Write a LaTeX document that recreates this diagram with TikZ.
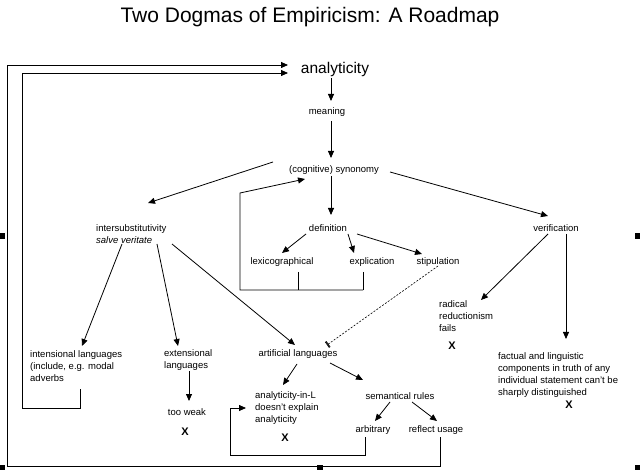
\documentclass[tikz,border=0pt]{standalone}
\usepackage{fontspec}
\setmainfont{Liberation Sans}
\usetikzlibrary{arrows.meta}
\begin{document}
\begin{tikzpicture}[x=1pt,y=-1pt,
  t/.style={inner sep=0pt,font=\fontsize{9.5}{12}\selectfont},
  tl/.style={t,anchor=west,align=left},
  ar/.style={draw,line width=0.8pt,-{Triangle[length=7pt,width=6pt]}},
  ln/.style={draw,line width=0.7pt},
  xx/.style={inner sep=0pt,font=\fontsize{11}{13}\selectfont\bfseries},
  hd/.style={fill=black,minimum size=6pt,inner sep=0pt}]
\useasboundingbox (0,0) rectangle (640,470);
\node[inner sep=0pt,font=\fontsize{21}{24}\selectfont] (title) at (310,17) {Two Dogmas of Empiricism: A Roadmap};
\node[inner sep=0pt,font=\fontsize{15.5}{18}\selectfont] (an) at (335,69) {analyticity};
\node[t] (me) at (327,112) {meaning};
\node[t] (sy) at (334,170) {(cognitive) synonomy};
\node[tl] (is) at (96,234) {intersubstitutivity\\\textit{salve veritate}};
\node[t] (de) at (328,228) {definition};
\node[t] (ve) at (556,228) {verification};
\node[t] (lx) at (282,262) {lexicographical};
\node[t] (ex) at (372,262) {explication};
\node[t] (st) at (438,262) {stipulation};
\node[tl] (rr) at (439,316) {radical\\reductionism\\fails};
\node[xx] (x1) at (452,346) {X};
\node[tl] (fa) at (498,375) {factual and linguistic\\components in truth of any\\individual statement can't be\\sharply distinguished};
\node[xx] (x2) at (569,405) {X};
\node[tl] (il) at (30,366) {intensional languages\\(include, e.g. modal\\adverbs};
\node[tl] (el) at (164,360) {extensional\\languages};
\node[t] (al) at (298,354) {artificial languages};
\node[t] (tw) at (187,412) {too weak};
\node[xx] (x3) at (185,432) {X};
\node[tl] (aL) at (255,408) {analyticity-in-L\\doesn't explain\\analyticity};
\node[xx] (x4) at (285,438) {X};
\node[t] (sr) at (400,396) {semantical rules};
\node[t] (ab) at (373,430) {arbitrary};
\node[t] (ru) at (436,430) {reflect usage};
% handles
\node[hd] (h1) at (2,236) {};
\node[hd] (h2) at (638,236) {};
\node[hd] (h3) at (2,468) {};
\node[hd] (h4) at (320,468) {};
\node[hd] (h5) at (638,468) {};
% loops
\coordinate (a1) at (288,65);
\coordinate (a2) at (288,73);
\draw[ar] (440,437) |- (7,466) |- (a1);
\draw[ar] (80,389) |- (22,408) |- (a2);
\draw[ln] (298,272) -- (298,290);
\draw[ln] (363,272) -- (363,290);
\draw[ar] (363,290) -- (240,290) -- (240,193) -- (305,179);
\draw[ar] (365,437) -- (365,455) -- (230,455) -- (230,408) -- (246,408);
% arrows
\draw[ar] (331,78) -- (331,101);
\draw[ar] (331,121) -- (331,158);
\draw[ar] (273,162) -- (148,203);
\draw[ar] (331,176) -- (331,215);
\draw[ar] (390,172) -- (548,216);
\draw[ar] (306,234) -- (282,253);
\draw[ar] (348,234) -- (354,253);
\draw[ar] (357,234) -- (422,254);
\draw[line width=0.6pt,dash pattern=on 2pt off 1.5pt,-{Bar[width=7pt]Bar[width=7pt]Bar[width=7pt]}] (438,266) -- (327,345);
\draw[ar] (122,244) -- (82,346);
\draw[ar] (157,244) -- (178,346);
\draw[ar] (172,244) -- (295,345);
\draw[ar] (548,234) -- (481,300);
\draw[ar] (566,234) -- (566,339);
\draw[ar] (189,371) -- (189,401);
\draw[ar] (297,364) -- (283,385);
\draw[ar] (330,363) -- (363,380);
\draw[ar] (390,402) -- (375,421);
\draw[ar] (412,402) -- (437,421);
\end{tikzpicture}
\end{document}
